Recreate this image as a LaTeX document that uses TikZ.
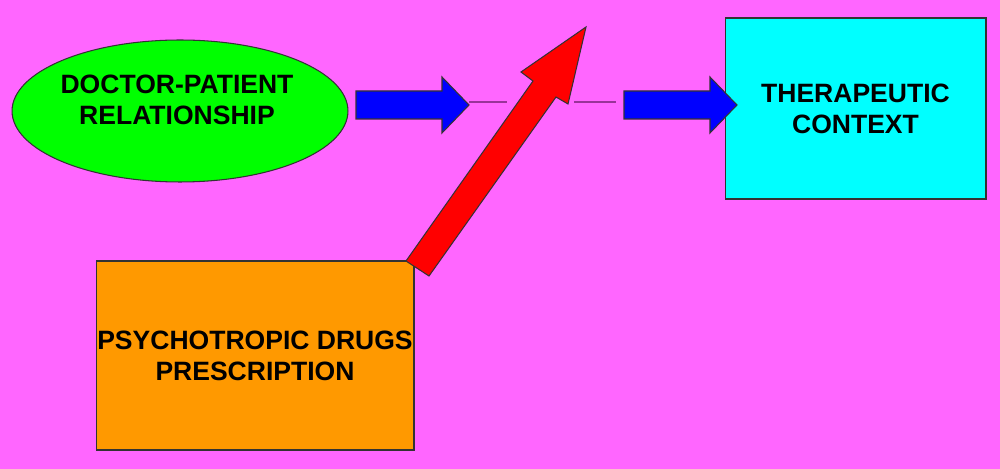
\documentclass[tikz,border=0pt]{standalone}
\usepackage{fontspec}
\setmainfont{Liberation Sans}
\usepackage{xcolor}
\usepackage{tikz}
\usetikzlibrary{shapes.geometric,positioning,calc}
\definecolor{fondrose}{HTML}{FF66FF}
\definecolor{relvert}{HTML}{00FF00}
\definecolor{ctxcyan}{HTML}{00FFFF}
\definecolor{presorange}{HTML}{FF9900}
\definecolor{flbleu}{HTML}{0000FF}
\definecolor{flrouge}{HTML}{FF0000}
\definecolor{traitviolet}{HTML}{993399}
\definecolor{contour}{HTML}{333333}

\begin{document}
\begin{tikzpicture}[x=0.02cm,y=-0.02cm,
    bloc/.style={draw=contour,line width=0.6pt},
    titre/.style={font=\fontsize{15.1}{17.6}\selectfont\bfseries,align=center,inner sep=0pt}]

  % Fond
  \fill[fondrose] (0,0) rectangle (1000,469);
  \useasboundingbox (0,0) rectangle (1000,469);

  % Relation médecin-patient
  \node[bloc,ellipse,fill=relvert,minimum width=6.72cm,minimum height=2.84cm,inner sep=0pt]
       (relation) at (180,111) {};
  \node[titre] (reltxt) at (177,100) {DOCTOR-PATIENT\\RELATIONSHIP};

  % Contexte thérapeutique
  \node[bloc,rectangle,fill=ctxcyan,minimum width=5.22cm,minimum height=3.62cm,titre]
       (contexte) at (855.5,108.5) {THERAPEUTIC\\CONTEXT};

  % Prescription
  \node[bloc,rectangle,fill=presorange,minimum width=6.36cm,minimum height=3.78cm,titre]
       (prescription) at (255,355.5) {PSYCHOTROPIC DRUGS\\PRESCRIPTION};

  % Flèches bleues
  \foreach \xa in {356,624} {
    \draw[bloc,fill=flbleu] (\xa,91) -- ++(86,0) -- ++(0,-14) -- ++(27,28)
          -- ++(-27,28) -- ++(0,-14) -- ++(-86,0) -- cycle;
  }

  % Traits
  \draw[traitviolet,line width=0.8pt] (469,102) -- (507,102);
  \draw[traitviolet,line width=0.8pt] (574,102) -- (616,102);

  % Flèche rouge
  \draw[bloc,fill=flrouge] (406,261) -- (533,81) -- (521,72) -- (586,27)
        -- (568,104) -- (556,97) -- (429,276) -- cycle;

\end{tikzpicture}
\end{document}
